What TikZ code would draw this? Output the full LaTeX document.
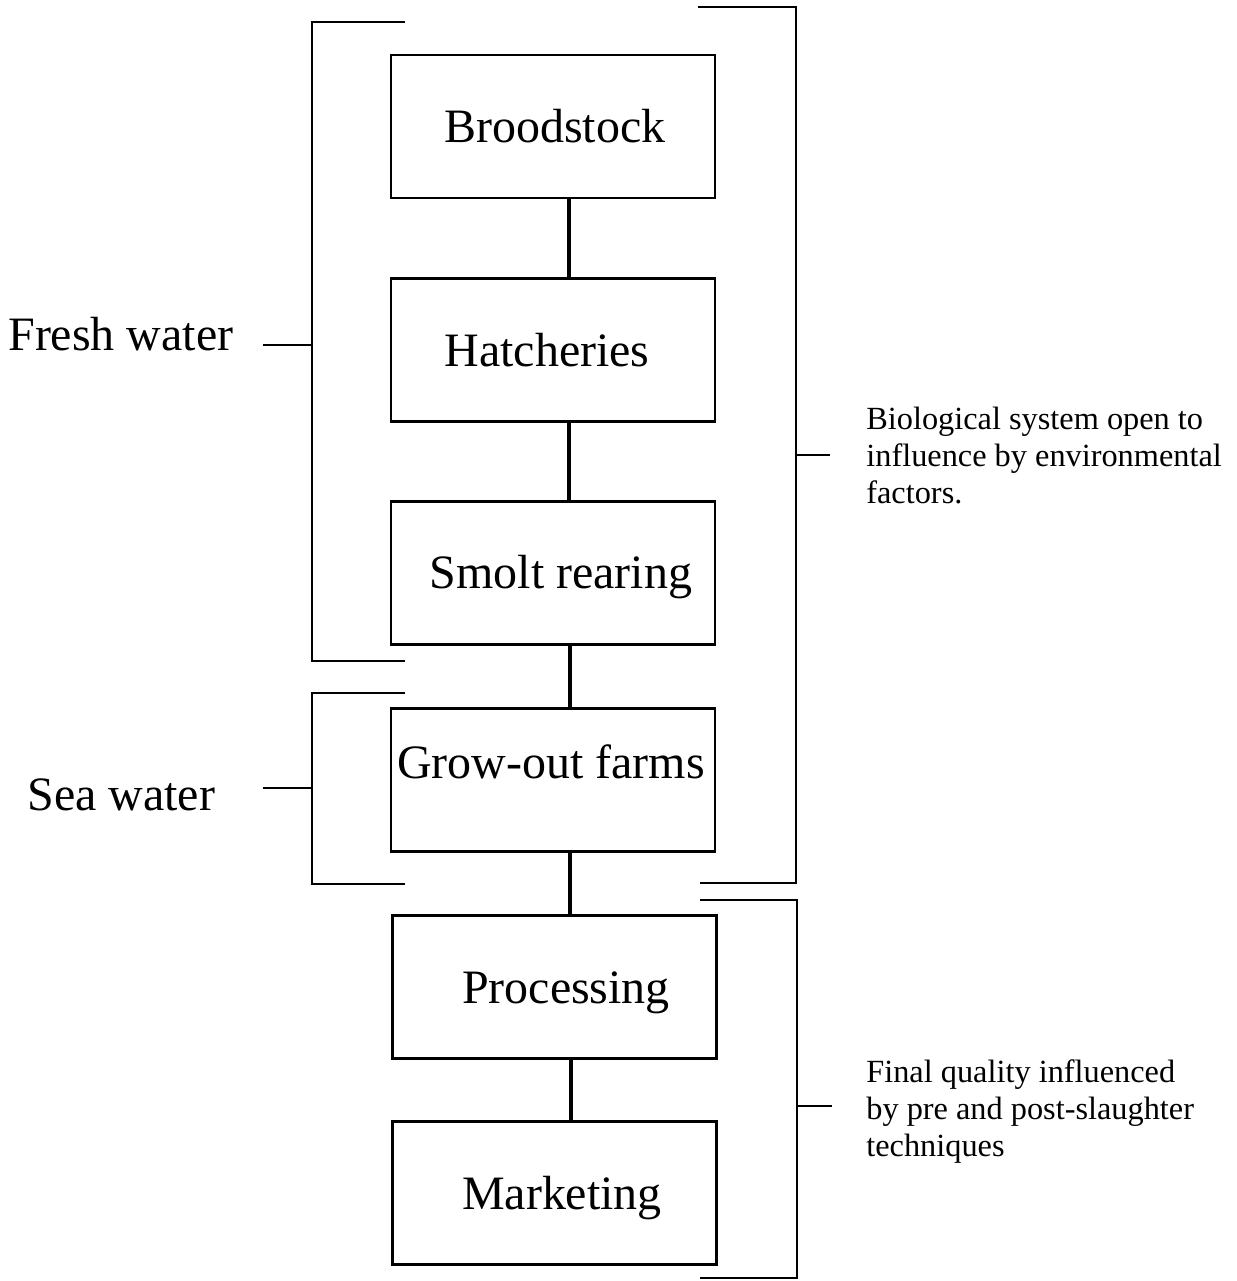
\documentclass[tikz,border=0pt]{standalone}
\usepackage{fontspec}
\setmainfont{Liberation Serif}
\begin{document}
\begin{tikzpicture}[x=0.02cm,y=-0.02cm,
  stage/.style={draw,line width=1.4pt,minimum width=6.48cm,minimum height=2.86cm,inner sep=0pt},
  big/.style={font=\fontsize{27.3}{30}\selectfont,inner sep=0pt},
  small/.style={font=\fontsize{18.4}{21}\selectfont,inner sep=0pt,align=left},
  conn/.style={line width=2.3pt},
  brk/.style={line width=1.4pt}]
\useasboundingbox (0,0) rectangle (1237,1281);
% boxes
\node[stage] (b1) at (553,126.5) {};
\node[stage] (b2) at (553,350) {};
\node[stage] (b3) at (553,573) {};
\node[stage] (b4) at (553,780) {};
\node[stage] (b5) at (554.5,987) {};
\node[stage] (b6) at (554.5,1193) {};
% texts
\node[big,anchor=base] (t1) at (555,142) {Broodstock};
\node[big,anchor=base] (t2) at (547,366) {Hatcheries};
\node[big,anchor=base] (t3) at (561,588) {Smolt rearing};
\node[big,anchor=base] (t4) at (551,778) {Grow-out farms};
\node[big,anchor=base] (t5) at (566,1003) {Processing};
\node[big,anchor=base] (t6) at (562,1209) {Marketing};
% connectors
\coordinate (c1) at (569,0);
\coordinate (c2) at (570,0);
\coordinate (c3) at (571,0);
\draw[conn] (b1.south -| c1) -- (b2.north -| c1);
\draw[conn] (b2.south -| c1) -- (b3.north -| c1);
\draw[conn] (b3.south -| c2) -- (b4.north -| c2);
\draw[conn] (b4.south -| c2) -- (b5.north -| c2);
\draw[conn] (b5.south -| c3) -- (b6.north -| c3);
% left brackets
\draw[brk] (405,22) -- (312,22) -- (312,661) -- (405,661);
\draw[brk] (263,345) -- (312,345);
\draw[brk] (405,693) -- (312,693) -- (312,884) -- (405,884);
\draw[brk] (263,788) -- (312,788);
\node[big,anchor=base west] (fw) at (8,350) {Fresh water};
\node[big,anchor=base west] (sw) at (27,810) {Sea water};
% right brackets
\draw[brk] (698,7) -- (796,7) -- (796,883) -- (700,883);
\draw[brk] (796,455) -- (830,455);
\draw[brk] (700,900) -- (797,900) -- (797,1278) -- (700,1278);
\draw[brk] (797,1106) -- (832,1106);
\node[small,anchor=base west] (bio) at (866,503) {Biological system open to\\influence by environmental\\factors.};
\node[small,anchor=base west] (fq) at (866,1156) {Final quality influenced\\by pre and post-slaughter\\techniques};
\end{tikzpicture}
\end{document}
